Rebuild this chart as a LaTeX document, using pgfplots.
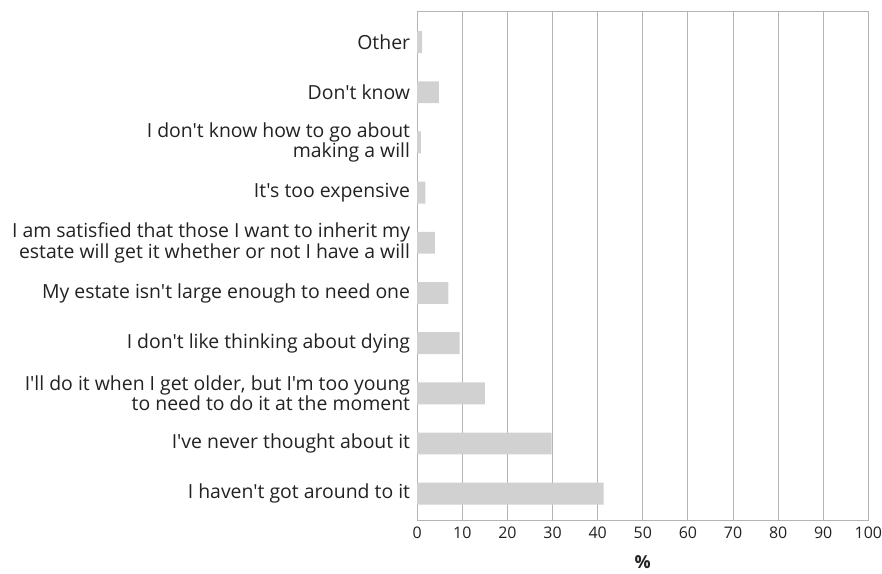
\documentclass[border=0pt]{standalone}
\usepackage{fontspec}
\setmainfont{Open Sans}[Ligatures=TeXOff]
\usepackage{pgfplots}
\pgfplotsset{compat=1.18}
\definecolor{barfill}{HTML}{D1D1D1}
\definecolor{gridc}{HTML}{B4B4B4}
\definecolor{txt}{HTML}{222222}
\begin{document}
\begin{tikzpicture}
\begin{axis}[
  scale only axis,
  width=453pt, height=511pt,
  xbar, bar width=22pt,
  xmin=0, xmax=100,
  ymin=-0.54, ymax=9.6,
  xtick={0,10,...,100},
  ytick={0,...,9},
  yticklabels={
    {I haven't got around to it},
    {I've never thought about it},
    {I'll do it when I get older, but I'm too young\\to need to do it at the moment},
    {I don't like thinking about dying},
    {My estate isn't large enough to need one},
    {I am satisfied that those I want to inherit my\\estate will get it whether or not I have a will},
    {It's too expensive},
    {I don't know how to go about\\making a will},
    {Don't know},
    {Other}},
  yticklabel style={align=right, font=\fontsize{19.5}{20.5}\selectfont, text=txt, inner sep=0pt, xshift=-7pt},
  xticklabel style={font=\fontsize{16}{18}\selectfont, text=txt, inner sep=0pt, yshift=-6pt},
  /pgf/number format/assume math mode=true,
  xmajorgrids, grid style={gridc, line width=0.9pt},
  major tick length=0pt,
  axis line style={gridc, line width=0.9pt},
  xlabel={\textbf{\%}}, xlabel style={font=\fontsize{18}{20}\selectfont, text=txt, inner sep=0pt, yshift=-17pt},
]
\addplot[fill=barfill, draw=none] coordinates {
  (41.3,0) (29.8,1) (15.0,2) (9.4,3) (6.9,4) (3.9,5) (1.8,6) (0.8,7) (4.8,8) (1.1,9)
};
\end{axis}
\path (current axis.south west) ++(-419pt,-53pt) coordinate (bbA);
\path (current axis.north east) ++(10pt,12pt) coordinate (bbB);
\path (bbA) rectangle (bbB);
\end{tikzpicture}
\end{document}
